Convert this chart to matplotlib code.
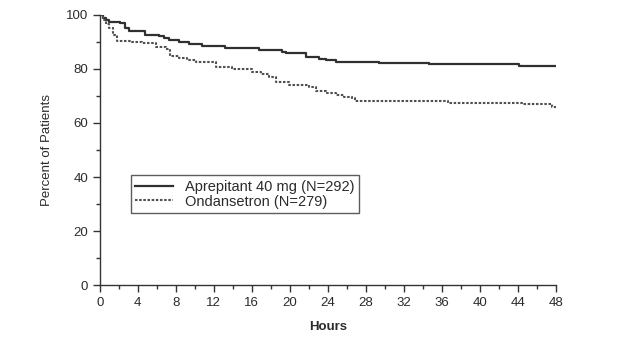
import numpy as np
import matplotlib.pyplot as plt
from matplotlib.ticker import MultipleLocator

plt.rcParams['font.family'] = ['Liberation Sans', 'DejaVu Sans']

# Kaplan-Meier style curves (hours, percent of patients)
aprep_h = [0, 0.3, 0.6, 1.0, 2.1, 2.6, 3.1, 4.8, 6.2, 6.8, 7.3, 8.3, 9.4, 10.7, 13.2, 16.0, 16.7,
           19.2, 19.6, 21.7, 23.1, 23.8, 24.8, 28.0, 29.4, 34.6, 44.1, 48]
aprep_v = [100, 99.0, 98.2, 97.5, 96.9, 95.3, 94.0, 92.6, 92.3, 91.4, 90.7, 89.9, 89.1, 88.4, 87.9,
           87.7, 86.9, 86.4, 85.8, 84.6, 83.7, 83.2, 82.7, 82.5, 82.1, 81.9, 81.2, 81.2]

ond_h = [0, 0.3, 0.6, 1.0, 1.4, 1.8, 3.4, 4.4, 5.9, 7.0, 7.4, 8.3, 9.2, 10.1, 12.2, 13.9, 16.0,
         17.0, 17.8, 18.5, 19.9, 22.0, 22.7, 23.8, 24.8, 25.7, 26.5, 26.9, 30.4, 36.6, 44.5, 47.6, 48]
ond_v = [100, 98.0, 96.5, 95.0, 92.5, 90.4, 89.9, 89.5, 88.3, 87.4, 84.9, 84.0, 83.2, 82.5, 80.9,
         79.9, 78.7, 78.0, 77.2, 75.3, 74.1, 73.5, 71.9, 71.2, 70.4, 69.8, 69.1, 68.3, 68.1, 67.3,
         67.0, 66.0, 66.0]

x_ticks = np.arange(0, 49, 4)
y_ticks = np.arange(0, 101, 20)

fig = plt.figure(figsize=(6.24, 3.39), dpi=100)
ax = fig.add_axes([0.160, 0.159, 0.731, 0.797])

txt = '#2b2b2b'
ax.plot(aprep_h, aprep_v, drawstyle='steps-post', color='#303030', lw=1.6,
        label='Aprepitant 40 mg (N=292)')
ax.plot(ond_h, ond_v, drawstyle='steps-post', color='#505050', lw=1.5,
        linestyle=(0, (1.2, 0.8)), label='Ondansetron (N=279)')

ax.set_xlim(0, 48)
ax.set_ylim(0, 100)
ax.set_xticks(x_ticks)
ax.set_yticks(y_ticks)
ax.xaxis.set_minor_locator(MultipleLocator(2))
ax.yaxis.set_minor_locator(MultipleLocator(10))
ax.tick_params(which='major', length=5, width=1, colors='#333333', labelcolor=txt, labelsize=9.5)
ax.tick_params(which='minor', length=3, width=1, colors='#333333')
for s in ['top', 'right']:
    ax.spines[s].set_visible(False)
for s in ['left', 'bottom']:
    ax.spines[s].set_color('#333333')
    ax.spines[s].set_linewidth(1)

ax.set_xlabel('Hours', fontsize=9.5, fontweight='bold', color=txt, labelpad=9)
ax.set_ylabel('Percent of Patients', fontsize=9.5, color=txt, labelpad=9)

leg = ax.legend(loc='lower left', bbox_to_anchor=(0.068, 0.267), fontsize=10.5,
                frameon=True, fancybox=False, edgecolor='#333333',
                handlelength=2.6, handletextpad=0.8, borderpad=0.3, labelspacing=0.05,
                borderaxespad=0)
leg.get_frame().set_linewidth(1)
for t in leg.get_texts():
    t.set_color(txt)

fig.savefig('out.png', dpi=100)
